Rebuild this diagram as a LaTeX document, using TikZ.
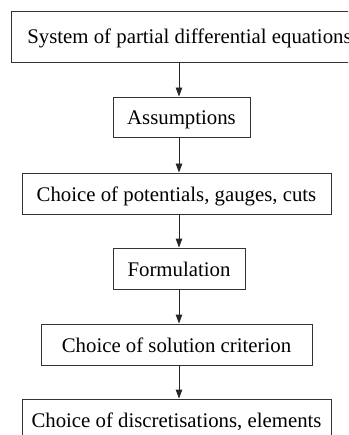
\documentclass[tikz,border=0pt]{standalone}
\usepackage{fontspec}
\setmainfont{Liberation Serif}
\usetikzlibrary{arrows.meta}
\begin{document}
\begin{tikzpicture}[x=1pt,y=-1pt,
  stepbox/.style={draw=black!80, line width=0.9pt, inner sep=0pt,
    text height=15pt, text depth=0pt,
    font=\fontsize{20.8}{25}\selectfont},
  flow/.style={draw=black!85, line width=0.9pt,
    -{Triangle[length=9pt,width=6.5pt]}}]
  \useasboundingbox (0,0) rectangle (348,435);
  \clip (0,0) rectangle (348,435);
  \fill[white] (0,0) rectangle (348,435);
  \coordinate (axis) at (179,0);
  \node[stepbox, minimum width=357pt, minimum height=51pt] (b1) at (189.5,36.5)
    {System of partial differential equations};
  \node[stepbox, minimum width=137pt, minimum height=40pt] (b2) at (181.5,117)
    {Assumptions};
  \node[stepbox, minimum width=309pt, minimum height=41pt] (b3) at (176.5,193.5)
    {Choice of potentials, gauges, cuts};
  \node[stepbox, minimum width=132pt, minimum height=41pt] (b4) at (179,268.5)
    {Formulation};
  \node[stepbox, minimum width=271pt, minimum height=41pt] (b5) at (176.5,344.5)
    {Choice of solution criterion};
  \node[stepbox, minimum width=309pt, minimum height=42pt] (b6) at (176.5,420)
    {Choice of discretisations, elements};
  \draw[flow] (b1.south -| axis) -- (b2.north -| axis);
  \draw[flow] (b2.south -| axis) -- (b3.north -| axis);
  \draw[flow] (b3.south -| axis) -- (b4.north -| axis);
  \draw[flow] (b4.south -| axis) -- (b5.north -| axis);
  \draw[flow] (b5.south -| axis) -- (b6.north -| axis);
\end{tikzpicture}
\end{document}
